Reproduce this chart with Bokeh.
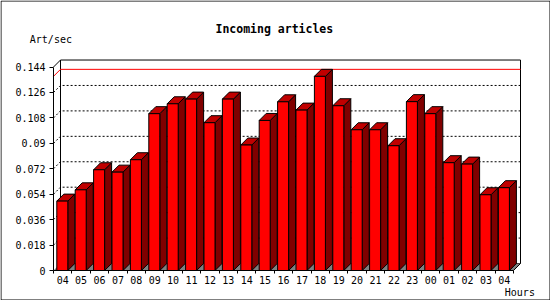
from bokeh.plotting import figure
from bokeh.models import Range1d, FixedTicker, LinearAxis
from bokeh.core.properties import value
from bokeh.embed import file_html
from bokeh.resources import INLINE

hours = ["04", "05", "06", "07", "08", "09", "10", "11", "12", "13", "14", "15", "16",
         "17", "18", "19", "20", "21", "22", "23", "00", "01", "02", "03", "04"]
rates = [0.0491, 0.0571, 0.0713, 0.0696, 0.0784, 0.1110, 0.1180, 0.1213, 0.1046, 0.1213,
         0.0888, 0.1062, 0.1194, 0.1135, 0.1374, 0.1166, 0.0996, 0.0996, 0.0883, 0.1195,
         0.1110, 0.0763, 0.0753, 0.0536, 0.0586]
y_ticks = [0, 0.018, 0.036, 0.054, 0.072, 0.09, 0.108, 0.126, 0.144]
y_tick_labels = ["0", "0.018", "0.036", "0.054", "0.072", "0.09", "0.108", "0.126", "0.144"]
title_text = "Incoming articles"
y_title = "Art/sec"
x_title = "Hours"

# geometry: the frame fills the whole 550x300 canvas, axes sit at fixed locations
W, H = 550, 300
X0, Y0 = 53, 270            # pixel position of data (0, 0)
SLOT_PX = 18.4
PX_Y = 1413.0
n = len(hours)
dx = 7 / SLOT_PX
dy = 7 / PX_Y
a = 3.3 / SLOT_PX
w = 11 / SLOT_PX
ymax_axis = y_ticks[-1]


def xd(px):
    return (px - X0) / SLOT_PX


def yd(py):
    return (Y0 - py) / PX_Y


p = figure(width=W, height=H, output_backend="svg", toolbar_location=None,
           x_range=Range1d(xd(0), xd(W)), y_range=Range1d(yd(H), yd(0)),
           min_border=0, x_axis_type=None, y_axis_type=None, title=None)
p.grid.visible = False
p.outline_line_color = None
p.background_fill_color = "white"
p.border_fill_color = "white"

# outer border of the picture
p.quad(left=[xd(0.5)], right=[xd(W - 0.5)], bottom=[yd(H - 0.5)], top=[yd(0.5)],
       fill_color=None, line_color="black", line_width=1)

# back plane
p.quad(left=[dx], right=[n + dx], bottom=[dy], top=[ymax_axis + dy],
       fill_color="white", line_color="black", line_width=1)
p.line([0, dx], [ymax_axis, ymax_axis + dy], line_color="black", line_width=1)
# floor
p.patch([0, n, n + dx, dx], [0, 0, dy, dy], fill_color="#808080", line_color=None)
p.line([n, n + dx], [0, dy], line_color="black", line_width=1)

# dotted grid lines
gx, gy = [], []
for t in y_ticks[1:-1]:
    gx.append([0, dx, n + dx])
    gy.append([t, t + dy, t + dy])
p.multi_line(gx, gy, line_color="black", line_dash="2 2", line_width=1)

# max line
m = max(rates)
p.line([0, dx, n + dx], [m, m + dy, m + dy], line_color="#ff0000", line_width=1)

# bars
lefts = [i + a for i in range(n)]
rights = [i + a + w for i in range(n)]
side_xs, side_ys, top_xs, top_ys = [], [], [], []
for l, r, v in zip(lefts, rights, rates):
    side_xs.append([r, r + dx, r + dx, r])
    side_ys.append([0, dy, v + dy, v])
    top_xs.append([l, l + dx, r + dx, r])
    top_ys.append([v, v + dy, v + dy, v])
p.patches(side_xs, side_ys, fill_color="#800000", line_color="black", line_width=1)
p.patches(top_xs, top_ys, fill_color="#c00000", line_color="black", line_width=1)
p.quad(left=lefts, right=rights, bottom=0, top=rates,
       fill_color="#ff0000", line_color="black", line_width=1)

# axes at fixed locations
yax = LinearAxis(ticker=FixedTicker(ticks=y_ticks, minor_ticks=[]), fixed_location=0)
yax.bounds = (0, ymax_axis)
yax.major_label_overrides = {t: s for t, s in zip(y_ticks, y_tick_labels)}
yax.major_tick_out = 4
yax.major_tick_in = 0
yax.minor_tick_out = 0
yax.major_label_standoff = 4
yax.major_label_text_font = "DejaVu Sans Mono"
yax.major_label_text_font_size = "10px"
yax.major_label_text_color = "black"
yax.axis_line_color = "black"
p.add_layout(yax, "left")

centers = [i + 0.5 for i in range(n)]
xax = LinearAxis(ticker=FixedTicker(ticks=centers, minor_ticks=list(range(n + 1))),
                 fixed_location=0)
xax.bounds = (0, n)
xax.major_label_overrides = {c: h for c, h in zip(centers, hours)}
xax.major_tick_out = 0
xax.major_tick_in = 0
xax.minor_tick_out = 3
xax.minor_tick_in = 0
xax.minor_tick_line_color = "black"
xax.major_label_standoff = 2
xax.major_label_text_font = "DejaVu Sans Mono"
xax.major_label_text_font_size = "10px"
xax.major_label_text_color = "black"
xax.axis_line_color = "black"
p.add_layout(xax, "below")

# texts
p.text(x=[xd(215)], y=[yd(28)], text=[title_text], text_font=value("DejaVu Sans Mono"),
       text_font_size="11.5px", text_font_style="bold", text_align="left",
       text_baseline="middle", text_color="black")
p.text(x=[xd(29.3)], y=[yd(39)], text=[y_title], text_font=value("DejaVu Sans Mono"),
       text_font_size="10px", text_align="left", text_baseline="middle",
       text_color="black")
p.text(x=[xd(504.3)], y=[yd(292.3)], text=[x_title], text_font=value("DejaVu Sans Mono"),
       text_font_size="10px", text_align="left", text_baseline="middle",
       text_color="black")

open("out.html", "w").write(file_html(p, INLINE))
